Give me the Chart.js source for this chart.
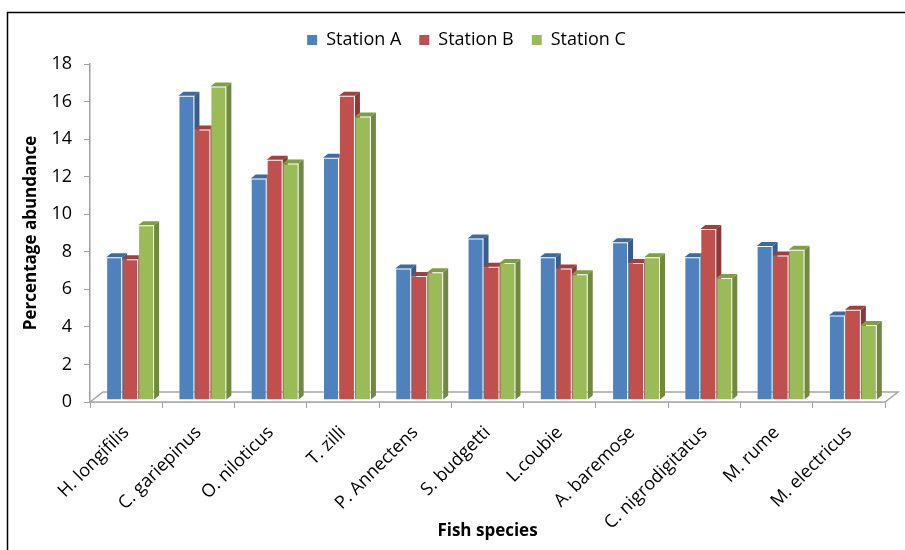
<!DOCTYPE html>
<html>
<head>
<meta charset="utf-8">
<script src="https://cdn.jsdelivr.net/npm/chart.js@4.4.1/dist/chart.umd.min.js"></script>
<style>
  html, body { margin: 0; padding: 0; background: #ffffff; }
  #wrap { width: 905px; height: 550px; position: relative; }
</style>
</head>
<body>
<div id="wrap"><canvas id="chart" width="905" height="550"></canvas></div>
<script>
// Fish species sampled at each station
const species = ['H. longifilis', 'C. gariepinus', 'O. niloticus', 'T. zilli', 'P. Annectens',
  'S. budgetti', 'L.coubie', 'A. baremose', 'C. nigrodigitatus', 'M. rume', 'M. electricus'];

// Percentage abundance per station
const stationA = [7.6, 16.2, 11.8, 12.9, 7.0, 8.6, 7.6, 8.4, 7.6, 8.2, 4.5];
const stationB = [7.5, 14.4, 12.8, 16.2, 6.6, 7.1, 7.0, 7.3, 9.1, 7.7, 4.8];
const stationC = [9.3, 16.7, 12.6, 15.1, 6.8, 7.3, 6.7, 7.6, 6.5, 8.0, 4.0];

const seriesNames = ['Station A', 'Station B', 'Station C'];

// Value axis range
const yMin = 0;
const yMax = 18;
const yStep = 2;

// Face colours: front, side and top of each extruded bar
const frontColors = ['#4F81BD', '#C0504D', '#9BBB59'];
const sideColors  = ['#385D8A', '#8C3836', '#6F8A3C'];
const topColors   = ['#3E6AA0', '#A03F3C', '#809F45'];

// Pseudo-3D geometry (pixels)
const BAR_DEPTH   = { dx: 5, dy: 4 };
const FLOOR_DEPTH = { dx: 13, dy: 10 };
const BAR_SHIFT   = { dx: 4, dy: -2 };
const LEGEND_SHIFT = 20;

const FONT = "'Open Sans', 'DejaVu Sans', sans-serif";

// White page with a thin dark frame
const framePlugin = {
  id: 'frame',
  beforeDraw(chart) {
    const ctx = chart.ctx;
    ctx.save();
    ctx.fillStyle = '#ffffff';
    ctx.fillRect(0, 0, chart.width, chart.height);
    ctx.strokeStyle = '#000000';
    ctx.lineWidth = 1.5;
    ctx.strokeRect(7.5, 12.5, chart.width - 5, chart.height + 20);
    ctx.restore();
  }
};

// Floor plane plus the side and top faces of every bar
const depthPlugin = {
  id: 'depth',
  beforeDatasetsDraw(chart) {
    const ctx = chart.ctx;
    const a = chart.chartArea;
    ctx.save();
    ctx.beginPath();
    ctx.moveTo(a.left, a.bottom);
    ctx.lineTo(a.left + FLOOR_DEPTH.dx, a.bottom - FLOOR_DEPTH.dy);
    ctx.lineTo(a.right + FLOOR_DEPTH.dx, a.bottom - FLOOR_DEPTH.dy);
    ctx.lineTo(a.right, a.bottom);
    ctx.closePath();
    ctx.fillStyle = '#ffffff';
    ctx.fill();
    ctx.strokeStyle = '#A6A6A6';
    ctx.lineWidth = 1.5;
    ctx.stroke();
    ctx.restore();

    // bars stand a little way back on the floor
    ctx.save();
    ctx.translate(BAR_SHIFT.dx, BAR_SHIFT.dy);
    const n = chart.data.labels.length;
    for (let i = 0; i < n; i++) {
      chart.data.datasets.forEach((ds, d) => {
        const meta = chart.getDatasetMeta(d);
        if (meta.hidden) return;
        const el = meta.data[i];
        const p = el.getProps(['x', 'y', 'base', 'width'], true);
        const x0 = p.x - p.width / 2;
        const x1 = p.x + p.width / 2;
        // side face
        ctx.beginPath();
        ctx.moveTo(x1, p.y);
        ctx.lineTo(x1 + BAR_DEPTH.dx, p.y - BAR_DEPTH.dy);
        ctx.lineTo(x1 + BAR_DEPTH.dx, p.base - BAR_DEPTH.dy);
        ctx.lineTo(x1, p.base);
        ctx.closePath();
        ctx.fillStyle = sideColors[d];
        ctx.fill();
        // top face
        ctx.beginPath();
        ctx.moveTo(x0, p.y);
        ctx.lineTo(x0 + BAR_DEPTH.dx, p.y - BAR_DEPTH.dy);
        ctx.lineTo(x1 + BAR_DEPTH.dx, p.y - BAR_DEPTH.dy);
        ctx.lineTo(x1, p.y);
        ctx.closePath();
        ctx.fillStyle = topColors[d];
        ctx.fill();
      });
    }
  },
  afterDatasetsDraw(chart) {
    chart.ctx.restore();
  }
};

// Fixed legend band height so the plot starts at a set position,
// and the legend row nudged right of the page centre
const legendBand = {
  id: 'legendBand',
  beforeInit(chart) {
    const lg = chart.legend;
    const fit = lg.fit;
    lg.fit = function () {
      fit.call(this);
      this.height = 51;
    };
    const draw = lg.draw;
    lg.draw = function () {
      const ctx = this.ctx;
      ctx.save();
      ctx.translate(LEGEND_SHIFT, 0);
      draw.call(this);
      ctx.restore();
    };
  }
};

const seriesValues = [stationA, stationB, stationC];

new Chart(document.getElementById('chart'), {
  type: 'bar',
  data: {
    labels: species,
    datasets: seriesNames.map((name, d) => ({
      label: name,
      data: seriesValues[d],
      backgroundColor: frontColors[d],
      borderColor: 'rgba(255,255,255,0.3)',
      borderWidth: 1,
      categoryPercentage: 0.663,
      barPercentage: 1.0
    }))
  },
  options: {
    responsive: false,
    animation: false,
    devicePixelRatio: 1,
    layout: { padding: { left: 8, right: 20, top: 13, bottom: 0 } },
    plugins: {
      legend: {
        position: 'top',
        labels: {
          boxWidth: 10,
          boxHeight: 10,
          padding: 18,
          color: '#000000',
          font: { family: FONT, size: 18 },
          generateLabels(chart) {
            return seriesNames.map((name, d) => ({
              text: name,
              fillStyle: frontColors[d],
              strokeStyle: frontColors[d],
              lineWidth: 0,
              hidden: false,
              datasetIndex: d
            }));
          }
        }
      },
      tooltip: { enabled: false }
    },
    scales: {
      x: {
        grid: {
          display: true,
          drawOnChartArea: false,
          drawTicks: true,
          tickLength: 6,
          color: '#A0A0A0',
          offset: true
        },
        border: { display: true, color: '#A6A6A6', width: 1.5 },
        ticks: {
          autoSkip: false,
          maxRotation: 45,
          minRotation: 45,
          padding: 14,
          color: '#000000',
          font: { family: FONT, size: 18 }
        },
        title: {
          display: true,
          text: 'Fish species',
          color: '#000000',
          font: { family: FONT, size: 17, weight: 'bold' },
          padding: { top: 0, bottom: 9 }
        },
        afterFit(scale) { scale.height = 148; }
      },
      y: {
        min: yMin,
        max: yMax,
        ticks: {
          stepSize: yStep,
          padding: 12,
          color: '#000000',
          font: { family: FONT, size: 18 }
        },
        grid: {
          display: true,
          drawOnChartArea: false,
          drawTicks: true,
          tickLength: 6,
          color: '#A0A0A0'
        },
        border: { display: true, color: '#A0A0A0', width: 1.5 },
        title: {
          display: true,
          text: 'Percentage abundance',
          color: '#000000',
          font: { family: FONT, size: 17, weight: 'bold' },
          padding: { top: 13, bottom: 0 }
        },
        afterFit(scale) { scale.width = 82; }
      }
    }
  },
  plugins: [framePlugin, depthPlugin, legendBand]
});
</script>
</body>
</html>
